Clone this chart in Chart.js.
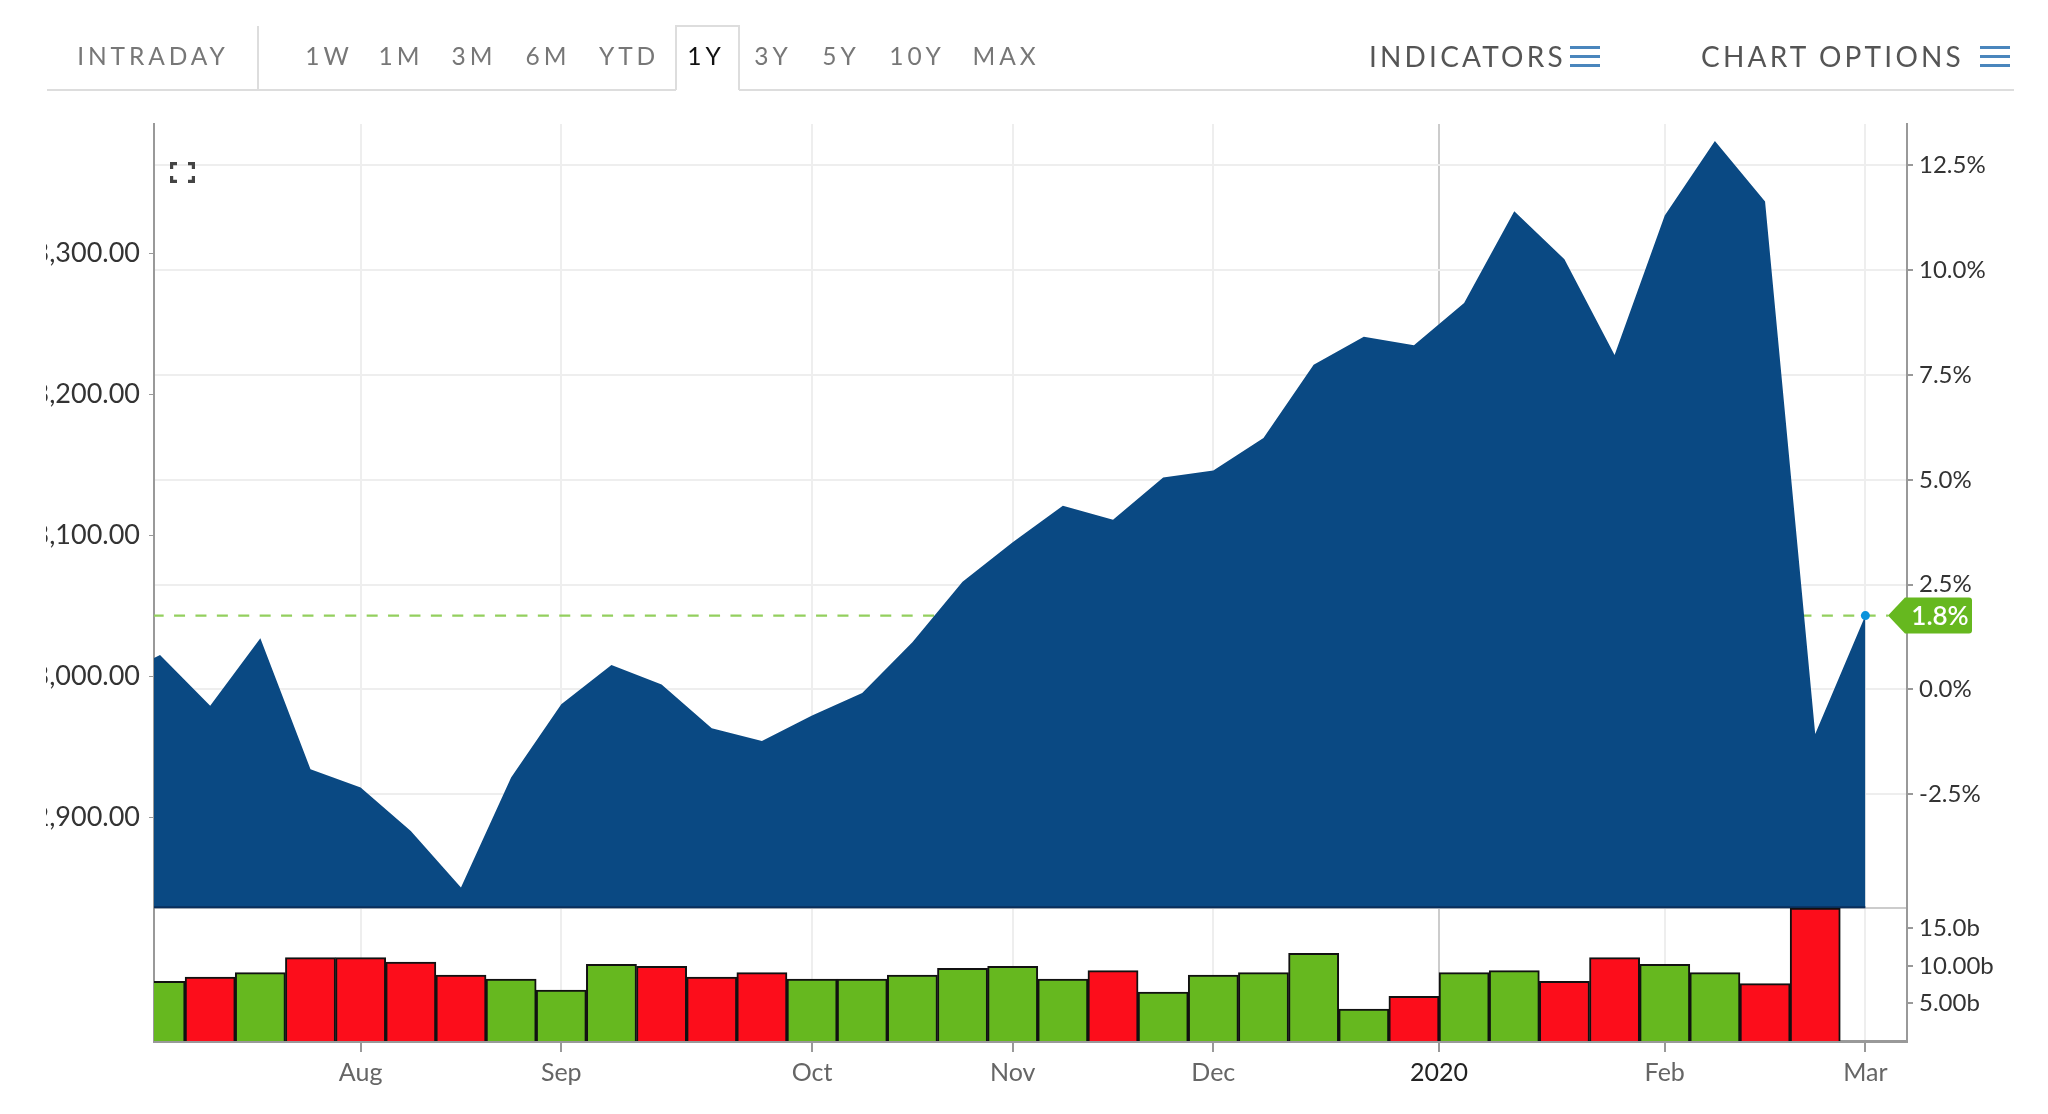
<!DOCTYPE html>
<html>
<head>
<meta charset="utf-8">
<script src="https://cdn.jsdelivr.net/npm/chart.js@4"></script>
<style>
  html, body { margin: 0; background: #fff; overflow: hidden; }
  body { width: 2048px; height: 1114px; position: relative; font-family: Lato, sans-serif; }
  #chart { position: absolute; left: 46px; top: 0; }
  .tab { position: absolute; top: 41px; line-height: 30px; font-size: 24.5px; letter-spacing: 3.9px; color: #777; transform: translateX(-50%); white-space: nowrap; }
  .tab.active { color: #111; }
  .menu { position: absolute; top: 41px; line-height: 30px; font-size: 28px; letter-spacing: 3.2px; color: #555; white-space: nowrap; }
  .rule { position: absolute; background: #ddd; }
  .burger { position: absolute; top: 46px; width: 30px; height: 21px; border-top: 3px solid #4a86bd; border-bottom: 3px solid #4a86bd; box-sizing: border-box; }
  .burger::after { content: ""; position: absolute; left: 0; right: 0; top: 6px; height: 3px; background: #4a86bd; }
  #expand { position: absolute; left: 170px; top: 162px; z-index: 2; }
</style>
</head>
<body>
<canvas id="chart" width="2002" height="1114"></canvas>

<div class="rule" style="left:47px;top:89px;width:629px;height:2px"></div>
<div class="rule" style="left:739px;top:89px;width:1275px;height:2px"></div>
<div class="rule" style="left:257px;top:26px;width:2px;height:64px"></div>
<div class="rule" style="left:675px;top:25px;width:64px;height:2px"></div>
<div class="rule" style="left:675px;top:25px;width:2px;height:65px"></div>
<div class="rule" style="left:738px;top:25px;width:2px;height:65px"></div>

<div class="tab" style="left:153px">INTRADAY</div>
<div class="tab" style="left:329px">1W</div>
<div class="tab" style="left:401px">1M</div>
<div class="tab" style="left:474px">3M</div>
<div class="tab" style="left:548px">6M</div>
<div class="tab" style="left:629px">YTD</div>
<div class="tab active" style="left:706px">1Y</div>
<div class="tab" style="left:773px">3Y</div>
<div class="tab" style="left:841px">5Y</div>
<div class="tab" style="left:917px">10Y</div>
<div class="tab" style="left:1006px">MAX</div>

<div class="menu" style="left:1369px">INDICATORS</div>
<div class="burger" style="left:1570px"></div>
<div class="menu" style="left:1701px">CHART OPTIONS</div>
<div class="burger" style="left:1980px"></div>

<svg id="expand" width="25" height="21" viewBox="0 0 25 21" fill="none" stroke="#444" stroke-width="3.4">
  <path d="M1.5 7V1.5H7M18 1.5H23.5V7M23.5 14V19.5H18M7 19.5H1.5V14"/>
</svg>

<script>
// weekly closes, week 0 is the first full week on screen, last one is March
const priceWeeks = [-1, 0, 1, 2, 3, 4, 5, 6, 7, 8, 9, 10, 11, 12, 13, 14, 15, 16, 17, 18, 19, 20, 21, 22, 23, 24, 25, 26, 27, 28, 29, 30, 31, 32, 33, 34];
const prices = [2997, 3015, 2979, 3027, 2934, 2921, 2890, 2850, 2928, 2980, 3008, 2994, 2963, 2954, 2972, 2988, 3024, 3067, 3095, 3121, 3111, 3141, 3146, 3169, 3221, 3241, 3235, 3265, 3330, 3296, 3228, 3327, 3380, 3337, 2959, 3043];

const volumes = [7.94, 8.52, 9.1, 11.1, 11.1, 10.5, 8.78, 8.25, 6.78, 10.2, 9.93, 8.52, 9.1, 8.25, 8.25, 8.78, 9.67, 9.93, 8.25, 9.37, 6.5, 8.78, 9.1, 11.67, 4.25, 5.94, 9.1, 9.37, 7.94, 11.1, 10.2, 9.1, 7.63, 17.7];
const volumeUp = [1, 0, 1, 0, 0, 0, 0, 1, 1, 1, 0, 0, 0, 1, 1, 1, 1, 1, 1, 0, 1, 1, 1, 1, 1, 0, 1, 1, 0, 0, 1, 1, 0, 0];

const monthTicks = [4, 8, 13, 17, 21, 25.5, 30, 34];
const monthLabels = ["Aug", "Sep", "Oct", "Nov", "Dec", "2020", "Feb", "Mar"];
const priceTicks = [2900, 3000, 3100, 3200, 3300];
const pctTicks = [-2.5, 0, 2.5, 5, 7.5, 10, 12.5];
const volumeTicks = [5, 10, 15, 17.7];
const volumeLabels = ["5.00b", "10.00b", "15.0b", ""];

const lastPrice = 3043;
const lastPct = "1.8%";
const priceFloor = 2836;

const NAVY = "#0a4983";
const GREEN = "#66b81f";
const RED = "#fc0d1b";
const FONT = "Lato, sans-serif";

// the volume axis takes no room of its own, its labels share the column of the % axis
const volumeColumn = {
  id: "volumeColumn",
  afterLayout(chart) {
    chart.scales.volume.right = chart.scales.volume.left + 141;
  }
};

const lastTag = {
  id: "lastTag",
  afterDraw(chart) {
    const ctx = chart.ctx;
    const y = chart.scales.price.getPixelForValue(lastPrice);
    const left = chart.chartArea.right - 2;
    ctx.save();
    ctx.fillStyle = GREEN;
    ctx.beginPath();
    ctx.moveTo(left - 17, y);
    ctx.lineTo(left, y - 18);
    ctx.lineTo(left + 64, y - 18);
    ctx.quadraticCurveTo(left + 67, y - 18, left + 67, y - 15);
    ctx.lineTo(left + 67, y + 15);
    ctx.quadraticCurveTo(left + 67, y + 18, left + 64, y + 18);
    ctx.lineTo(left, y + 18);
    ctx.closePath();
    ctx.fill();
    ctx.fillStyle = "#fff";
    ctx.font = "600 26px " + FONT;
    ctx.textAlign = "center";
    ctx.textBaseline = "middle";
    ctx.fillText(lastPct, left + 35, y + 1);
    ctx.restore();
  }
};

const chart = new Chart(document.querySelector("#chart"), {
  data: {
    datasets: [
      {
        type: "bar",
        label: "Volume",
        yAxisID: "volume",
        order: 0,
        data: volumes.map((v, i) => ({ x: i, y: v })),
        backgroundColor: volumeUp.map((u) => (u ? GREEN : RED)),
        borderColor: "#111",
        borderWidth: 2,
        barPercentage: 1,
        categoryPercentage: 1
      },
      {
        type: "line",
        label: "Floor",
        yAxisID: "price",
        order: 1,
        data: [{ x: -1, y: priceFloor }, { x: 34, y: priceFloor }],
        borderColor: "#0a2f5c",
        borderWidth: 2,
        pointRadius: 0
      },
      {
        type: "line",
        label: "Price",
        yAxisID: "price",
        order: 2,
        data: priceWeeks.map((w, i) => ({ x: w, y: prices[i] })),
        borderWidth: 0,
        borderColor: NAVY,
        backgroundColor: NAVY,
        fill: { value: priceFloor },
        tension: 0,
        pointRadius: (c) => (c.dataIndex === prices.length - 1 ? 4.5 : 0),
        pointBorderWidth: 0,
        pointBackgroundColor: "#0b93dc"
      },
      {
        type: "line",
        label: "Last",
        yAxisID: "price",
        order: 3,
        data: [{ x: -1, y: lastPrice }, { x: 34.46, y: lastPrice }],
        borderColor: "#93cf5e",
        borderWidth: 2.4,
        borderDash: [11, 10.4],
        pointRadius: 0
      }
    ]
  },
  options: {
    responsive: false,
    animation: false,
    layout: { padding: { top: 124, left: 0, right: 0, bottom: 0 } },
    plugins: { legend: { display: false }, tooltip: { enabled: false } },
    scales: {
      x: {
        type: "linear",
        offset: false,
        min: -0.12,
        max: 34.83,
        afterBuildTicks: (axis) => { axis.ticks = monthTicks.map((v) => ({ value: v })); },
        afterFit: (axis) => { axis.height = 73; },
        border: { color: "#999", width: 3 },
        grid: {
          offset: false,
          color: (c) => (c.index === 5 ? "#cccccc" : "#eeeeee"),
          lineWidth: 2,
          tickColor: "#999",
          tickLength: 11
        },
        ticks: {
          autoSkip: false,
          maxRotation: 0,
          padding: 6,
          font: { family: FONT, size: 25 },
          color: (c) => (c.index === 5 ? "#222" : "#666"),
          callback: (v, i) => monthLabels[i]
        }
      },
      price: {
        position: "left",
        min: 2741,
        max: 3392,
        afterBuildTicks: (axis) => { axis.ticks = priceTicks.map((v) => ({ value: v })); },
        afterFit: (axis) => { axis.width = 108; },
        border: { color: "#999", width: 2 },
        grid: { drawOnChartArea: false, tickColor: "#999", tickLength: 5 },
        ticks: {
          padding: 9,
          font: { family: FONT, size: 27 },
          color: "#333",
          callback: (v) => v.toLocaleString("en-US", { minimumFractionDigits: 2 })
        }
      },
      volume: {
        position: "right",
        weight: 0,
        min: 0,
        max: 122,
        afterBuildTicks: (axis) => { axis.ticks = volumeTicks.map((v) => ({ value: v })); },
        afterFit: (axis) => { axis.width = 0; },
        border: { display: false },
        grid: {
          color: (c) => (c.index === 3 ? "#cccccc" : "transparent"),
          lineWidth: 2,
          tickColor: (c) => (c.index === 3 ? "transparent" : "#999"),
          tickLength: 6
        },
        ticks: {
          padding: 6,
          font: { family: FONT, size: 24 },
          color: "#333",
          callback: (v, i) => volumeLabels[i]
        }
      },
      pct: {
        position: "right",
        weight: 1,
        min: -8.39,
        max: 13.49,
        afterBuildTicks: (axis) => { axis.ticks = pctTicks.map((v) => ({ value: v })); },
        afterFit: (axis) => { axis.width = 141; },
        border: { color: "#999", width: 2 },
        grid: { color: "#eeeeee", lineWidth: 2, tickColor: "#999", tickLength: 6 },
        ticks: {
          padding: 6,
          font: { family: FONT, size: 24 },
          color: "#333",
          callback: (v) => v.toFixed(1) + "%"
        }
      }
    }
  },
  plugins: [volumeColumn, lastTag]
});
</script>
</body>
</html>
